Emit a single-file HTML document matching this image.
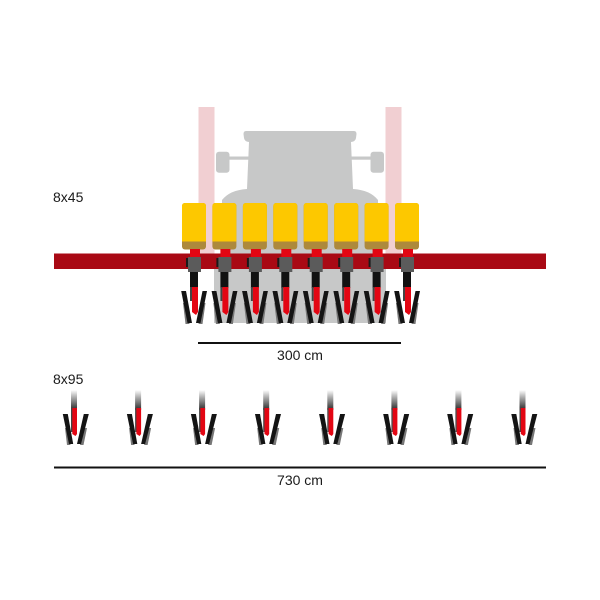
<!DOCTYPE html>
<html><head><meta charset="utf-8"><style>
html,body{margin:0;padding:0;background:#fff;}
svg{display:block;}
text{font-family:"Liberation Sans",Arial,sans-serif;font-size:14px;fill:#1a1a1a;}
</style></head><body>
<svg width="600" height="600" viewBox="0 0 600 600" xmlns="http://www.w3.org/2000/svg">
<defs>
<linearGradient id="tg" x1="0" y1="0" x2="0" y2="1">
<stop offset="0" stop-color="#ffffff"/>
<stop offset="0.35" stop-color="#b0b0b0"/>
<stop offset="1" stop-color="#2a2a2a"/>
</linearGradient>
<g id="up">
<rect x="-4" y="249" width="10" height="10" fill="#e30613"/>
<rect x="-8" y="258" width="3" height="9" fill="#1a1a1a"/>
<rect x="-6" y="257" width="13" height="15" fill="#5b5b5b"/>
<rect x="-4" y="272" width="8" height="16" fill="#111"/>
<rect x="-4" y="287" width="2" height="14" fill="#444"/>
<polygon points="-2,287 4,287 4,312 2,315 -2,312" fill="#e30613"/>
<polygon points="-11,303 -8,303 -4.5,324 -8.5,324" fill="#777"/>
<polygon points="8.5,303 11.5,303 8.5,324 4.5,324" fill="#777"/>
<polygon points="-12.8,291 -8,291 -2,323 -6.5,323" fill="#141414"/>
<polygon points="8.5,291 13,291 6.5,323 2,323" fill="#141414"/>
</g>
<g id="lo">
<rect x="-4.5" y="390" width="6" height="20" fill="url(#tg)"/>
<rect x="-4.5" y="408" width="1.5" height="24" fill="#444"/>
<polygon points="-3.2,408 1.5,408 1.5,434 0,436 -3.2,434" fill="#e30613"/>
<polygon points="-10.5,428 -7.5,428 -5,445 -8.5,445" fill="#777"/>
<polygon points="8.5,428 11.5,428 8,445 4.5,445" fill="#777"/>
<polygon points="-12.7,414 -7.7,414 -2.3,444 -6.5,444" fill="#141414"/>
<polygon points="8.3,414 13.3,414 5.5,444 1.5,444" fill="#141414"/>
</g>
<g id="hop">
<rect x="-12" y="203" width="24" height="46.5" rx="3" fill="#ad893c"/>
<path d="M-12,241.5 L-12,206 Q-12,203 -9,203 L9,203 Q12,203 12,206 L12,241.5 Z" fill="#fdc800"/>
</g>
</defs>

<!-- pink bars -->
<rect x="198.5" y="107" width="16" height="148" fill="#f1cfd2"/>
<rect x="385.5" y="107" width="16" height="148" fill="#f1cfd2"/>

<!-- tractor -->
<path d="M246,131 L354,131 Q356.5,131 356.5,134 L356,138 Q355.5,141.5 351,142 L353,189 Q370,190 378,200 L378,255 L386,255 L386,323 L214,323 L214,255 L222,255 L222,200 Q230,190 247,189 L249,142 Q244.5,141.5 244,138 L243.5,134 Q243.5,131 246,131 Z" fill="#c7c8c8"/>
<rect x="216" y="151.7" width="13.5" height="21" rx="3" fill="#c7c8c8"/>
<rect x="370.5" y="151.7" width="13.5" height="21" rx="3" fill="#c7c8c8"/>
<rect x="229" y="156.5" width="20" height="3.2" fill="#c7c8c8"/>
<rect x="351" y="156.5" width="20" height="3.2" fill="#c7c8c8"/>

<!-- hoppers -->
<use href="#hop" x="194"/>
<use href="#hop" x="224.4"/>
<use href="#hop" x="254.9"/>
<use href="#hop" x="285.3"/>
<use href="#hop" x="315.7"/>
<use href="#hop" x="346.2"/>
<use href="#hop" x="376.6"/>
<use href="#hop" x="407"/>

<!-- bar -->
<rect x="54" y="253.5" width="492" height="15.5" fill="#a90914"/>

<!-- upper openers -->
<use href="#up" x="194"/>
<use href="#up" x="224.4"/>
<use href="#up" x="254.9"/>
<use href="#up" x="285.3"/>
<use href="#up" x="315.7"/>
<use href="#up" x="346.2"/>
<use href="#up" x="376.6"/>
<use href="#up" x="407"/>

<!-- 300 cm -->
<rect x="198" y="342" width="203" height="2" fill="#111"/>
<text x="300" y="360" text-anchor="middle">300 cm</text>

<text x="53" y="202">8x45</text>
<text x="53" y="384">8x95</text>

<!-- lower openers -->
<use href="#lo" x="75.5"/>
<use href="#lo" x="139.6"/>
<use href="#lo" x="203.6"/>
<use href="#lo" x="267.7"/>
<use href="#lo" x="331.8"/>
<use href="#lo" x="395.9"/>
<use href="#lo" x="459.9"/>
<use href="#lo" x="524"/>

<!-- 730 cm -->
<rect x="54" y="466.5" width="492" height="2" fill="#111"/>
<text x="300" y="485" text-anchor="middle">730 cm</text>
</svg>
</body></html>
